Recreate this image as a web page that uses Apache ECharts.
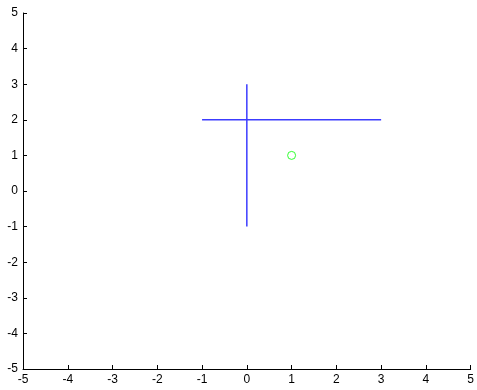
<!DOCTYPE html>
<html>
<head>
<meta charset="utf-8">
<script src="https://cdn.jsdelivr.net/npm/echarts@6/dist/echarts.min.js"></script>
<style>
  html, body { margin: 0; padding: 0; background: #fff; }
  #chart { width: 477px; height: 390px; }
</style>
</head>
<body>
<div id="chart"></div>
<script>
// Axis range and tick step
const xRange = [-5, 5];
const yRange = [-5, 5];
const tickStep = 1;

// Cross made of a horizontal and a vertical segment
const horizontalSegment = [[-1, 2], [3, 2]];
const verticalSegment = [[0, -1], [0, 3]];

// Single marker point
const markerPoint = [[1, 1]];

const chart = echarts.init(document.getElementById('chart'), null, { renderer: 'canvas' });

const labelFont = { color: '#000', fontFamily: 'Liberation Sans, Arial, sans-serif', fontSize: 12 };

const axisCommon = {
  type: 'value',
  interval: tickStep,
  splitLine: { show: false },
  axisLine: { show: true, onZero: false, lineStyle: { color: '#000', width: 1 } },
  axisTick: { show: true, inside: true, length: 4, lineStyle: { color: '#000' } }
};

const crossLine = { color: '#3c3cff', width: 1.5 };

chart.setOption({
  animation: false,
  backgroundColor: '#fff',
  grid: { left: 23, right: 4, top: 13, bottom: 21, containLabel: false },
  xAxis: Object.assign({}, axisCommon, {
    min: xRange[0], max: xRange[1],
    axisLabel: Object.assign({}, labelFont, { margin: 5 })
  }),
  yAxis: Object.assign({}, axisCommon, {
    min: yRange[0], max: yRange[1],
    axisLabel: Object.assign({}, labelFont, { margin: 5 })
  }),
  series: [
    {
      type: 'line', data: horizontalSegment, symbol: 'none',
      itemStyle: { color: crossLine.color }, lineStyle: crossLine
    },
    {
      type: 'line', data: verticalSegment, symbol: 'none',
      itemStyle: { color: crossLine.color }, lineStyle: crossLine
    },
    {
      type: 'scatter', data: markerPoint, symbol: 'circle', symbolSize: 8,
      itemStyle: { color: 'rgba(0,0,0,0)', borderColor: '#00ff00', borderWidth: 1 }
    }
  ]
});
</script>
</body>
</html>
